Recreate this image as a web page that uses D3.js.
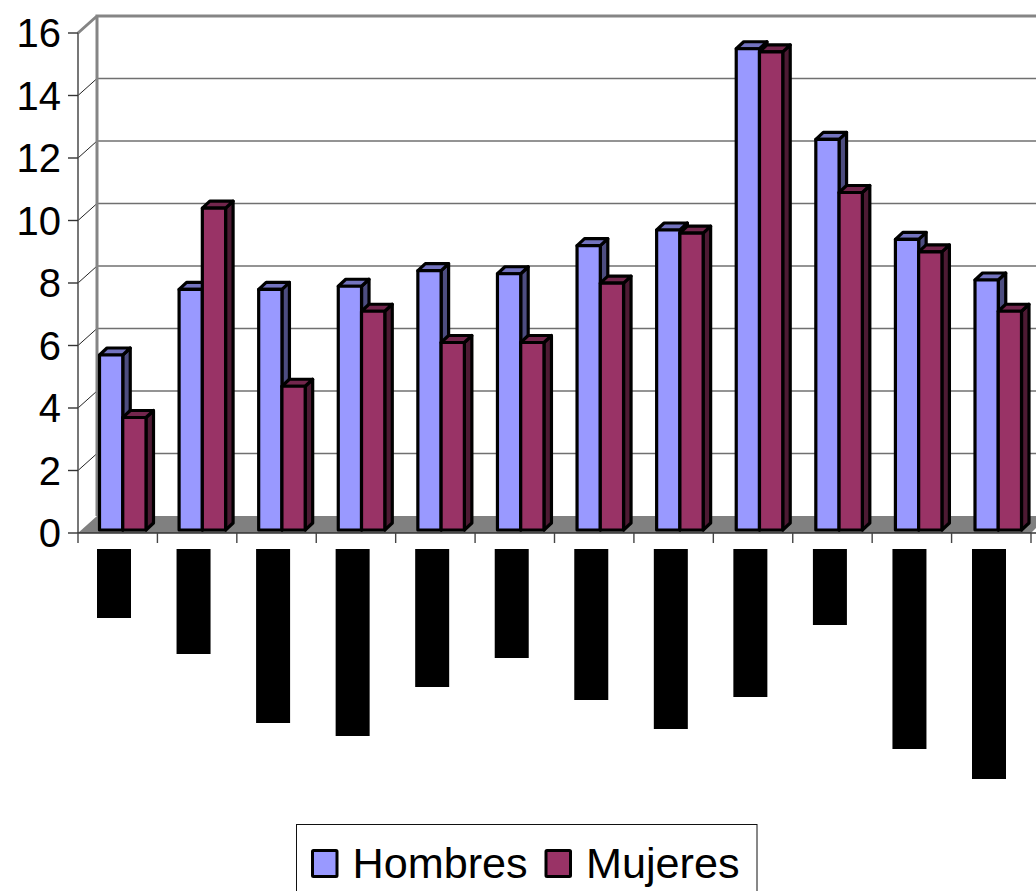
<!DOCTYPE html>
<html><head><meta charset="utf-8">
<script src="https://cdn.jsdelivr.net/npm/d3@7"></script>
<style>html,body{margin:0;padding:0;background:#fff;overflow:hidden}svg{display:block}text{font-family:"Liberation Sans",Arial,sans-serif;fill:#000}</style>
</head><body><div id="c"></div>
<script>
const seriesNames = ["Hombres","Mujeres"];
const hombres = [5.6,7.7,7.7,7.8,8.3,8.2,9.1,9.6,15.4,12.5,9.3,8.0];
const mujeres = [3.6,10.3,4.6,7.0,6.0,6.0,7.9,9.5,15.3,10.8,8.9,7.0];
const hiddenLabelLengths = [69,105,174,187,138,109,151,180,148,76,200,230];
const yTicks = [0,2,4,6,8,10,12,14,16];
const colors = {Hombres:{front:"#9999ff",top:"#7373bf",side:"#4d4d80"},Mujeres:{front:"#993366",top:"#73264d",side:"#4d1a33"}};

const W=1036,H=891,depth=19,rise=17,left=78,base=533,top0=33;
const svg=d3.select("#c").append("svg").attr("width",W).attr("height",H);
const y=d3.scaleLinear().domain([0,16]).range([base,top0]);
const x=d3.scaleLinear().domain([0,12]).range([left,1031]);
const barX=d3.scaleLinear().domain([0,11]).range([99.5,975]);
const labelX=d3.scaleLinear().domain([0,11]).range([97,972]);
const inner=d3.scaleBand().domain(seriesNames).range([0,46.5]);

// floor
svg.append("polygon").attr("fill","#808080")
 .attr("points",[[left,base],[left+depth,base-rise],[W,base-rise],[W,base-5],[1031,base]].join(" "));
// gridlines on the back wall
svg.selectAll("line.grid").data(yTicks.filter(d=>d>0&&d<16)).join("line")
 .attr("class","grid").attr("x1",left+depth).attr("x2",W).attr("y1",d=>y(d)-rise).attr("y2",d=>y(d)-rise)
 .attr("stroke","#707070").attr("stroke-width",1.6);
// diagonal ticks on the side wall
svg.selectAll("line.diag").data(yTicks.filter(d=>d>0&&d<16)).join("line")
 .attr("class","diag").attr("x1",left).attr("x2",left+depth).attr("y1",d=>y(d)).attr("y2",d=>y(d)-rise)
 .attr("stroke","#222").attr("stroke-width",1);
// wall frame
svg.append("path").attr("fill","none").attr("stroke","#858585").attr("stroke-width",3)
 .attr("d",`M${left+depth},${y(0)-rise}V${y(16)-rise}H${W}M${left},${y(16)}L${left+depth},${y(16)-rise}`);
// front axes
svg.append("path").attr("fill","none").attr("stroke","#555").attr("stroke-width",1.6)
 .attr("d",`M${left},${base}V${top0}`);
svg.append("path").attr("fill","none").attr("stroke","#333").attr("stroke-width",1.6)
 .attr("d",`M${left},${base}H${W}`);
// y ticks + labels
const yg=svg.append("g");
yg.selectAll("line").data(yTicks).join("line")
 .attr("x1",68).attr("x2",left).attr("y1",d=>y(d)).attr("y2",d=>y(d)).attr("stroke","#333").attr("stroke-width",1.4);
yg.selectAll("text").data(yTicks).join("text")
 .attr("x",61).attr("y",d=>y(d)+14).attr("text-anchor","end").attr("font-size",40).text(d=>d);
// x ticks
svg.selectAll("line.xt").data(d3.range(0,13)).join("line")
 .attr("class","xt").attr("x1",d=>x(d)).attr("x2",d=>x(d)).attr("y1",base).attr("y2",base+10)
 .attr("stroke","#444").attr("stroke-width",1.4);

// bars
const dx=7.5,dy=7,floorGap=3;
function bar(g,name,v,i){
  const c=colors[name],bw=inner.bandwidth();
  const x0=barX(i)+inner(name),x1=x0+bw,yt=y(v)-floorGap,yb=base-floorGap;
  const st=s=>s.attr("stroke","#000").attr("stroke-width",3.2).attr("stroke-linejoin","round");
  st(g.append("polygon").attr("fill",c.side).attr("points",[[x1,yt],[x1+dx,yt-dy],[x1+dx,yb-dy],[x1,yb]].join(" ")));
  st(g.append("polygon").attr("fill",c.top).attr("points",[[x0,yt],[x0+dx,yt-dy],[x1+dx,yt-dy],[x1,yt]].join(" ")));
  st(g.append("rect").attr("fill",c.front).attr("x",x0).attr("y",yt).attr("width",bw).attr("height",yb-yt));
}
hombres.forEach((v,i)=>{
  const g=svg.append("g");
  bar(g,"Hombres",v,i);
  bar(g,"Mujeres",mujeres[i],i);
});

// blacked-out category labels
svg.selectAll("rect.lab").data(hiddenLabelLengths).join("rect")
 .attr("class","lab").attr("x",(d,i)=>labelX(i)).attr("y",549).attr("width",34).attr("height",d=>d).attr("fill","#000");

// legend
svg.append("rect").attr("x",296.5).attr("y",824.5).attr("width",460.5).attr("height",80)
 .attr("fill","#fff").attr("stroke","#111").attr("stroke-width",1);
const legendX={Hombres:[312.5,352.5],Mujeres:[546,586]};
seriesNames.forEach(n=>{
  svg.append("rect").attr("x",legendX[n][0]).attr("y",850.5).attr("width",24.5).attr("height",26)
   .attr("fill",colors[n].front).attr("stroke","#000").attr("stroke-width",3).attr("rx",1);
  svg.append("text").attr("x",legendX[n][1]).attr("y",878).attr("font-size",43.2).text(n);
});
</script></body></html>
